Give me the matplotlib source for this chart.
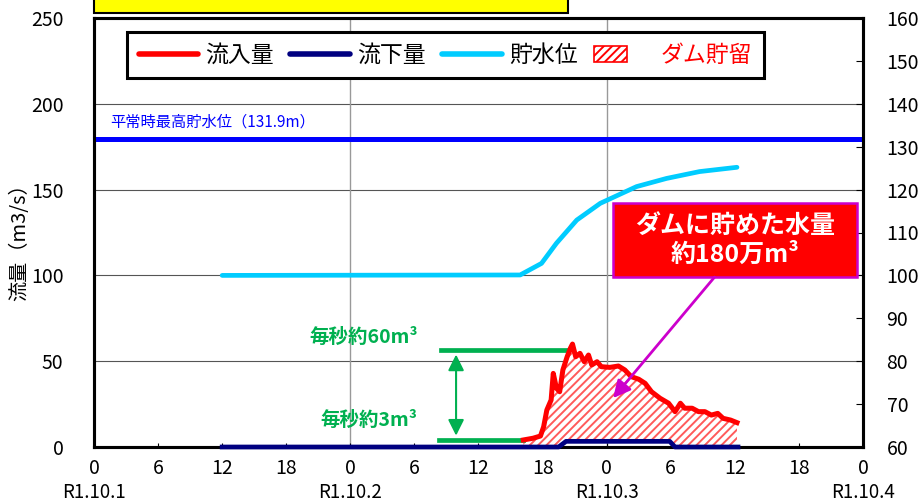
import numpy as np
import matplotlib
matplotlib.use('Agg')
import matplotlib.pyplot as plt
from matplotlib.lines import Line2D
from matplotlib.patches import Patch, Rectangle
from matplotlib.legend_handler import HandlerPatch

plt.rcParams['font.family'] = ['Noto Sans CJK JP', 'DejaVu Sans']
plt.rcParams['hatch.linewidth'] = 1.4

# hours from R1.10.1 0:00
inflow_t = [40.2, 41.1, 41.8, 42.1, 42.4, 42.8, 43.0, 43.3, 43.6, 43.9, 44.3, 44.6,
            44.8, 45.1, 45.5, 45.9, 46.3, 46.6, 47.1, 47.5, 48.3, 49.1, 49.7, 50.3,
            51.0, 51.6, 52.2, 53.0, 53.8, 54.4, 54.9, 55.3, 56.0, 56.6, 57.2, 57.8,
            58.4, 58.9, 59.6, 60.2]
inflow_q = [4.1, 5.1, 6.4, 11.8, 21.6, 27.4, 42.9, 34.2, 32.2, 44.9, 52.6, 57.5,
            60.0, 52.6, 54.6, 49.7, 53.6, 47.8, 49.7, 46.8, 46.4, 47.2, 44.9, 41.0,
            39.5, 37.1, 32.2, 28.4, 25.5, 20.6, 25.5, 22.6, 22.6, 20.6, 20.6, 18.6,
            19.6, 16.7, 15.7, 14.2]

outflow_t = [12.0, 43.5, 44.2, 53.9, 54.4, 60.3]
outflow_q = [0.0, 0.0, 3.3, 3.3, 0.0, 0.0]

level_t = [12.0, 39.9, 41.9, 43.3, 45.2, 47.4, 50.8, 53.6, 56.7, 60.2]
level_h = [100.0, 100.1, 102.8, 107.5, 112.9, 116.8, 120.7, 122.6, 124.2, 125.2]

normal_max_level = 131.9

hour_ticks = list(range(0, 73, 6))
hour_labels = ['0', '6', '12', '18'] * 3 + ['0']
date_pos = [0, 24, 48, 72]
date_labels = ['R1.10.1', 'R1.10.2', 'R1.10.3', 'R1.10.4']


def small_box(legend, orig_handle, xdescent, ydescent, width, height, fontsize):
    return Rectangle((-xdescent, -ydescent - 0.05 * height), width * 0.55, height * 1.0)


fig = plt.figure(figsize=(9.24, 5.04), dpi=100)
ax = fig.add_axes([94 / 924, 1 - 447 / 504, 769 / 924, 429 / 504])
ax2 = ax.twinx()
ax.set_zorder(ax2.get_zorder() + 1)
ax.patch.set_visible(False)

ax.set_xlim(0, 72)
ax.set_ylim(0, 250)
ax2.set_ylim(60, 160)

# grid
for y in [50, 100, 150, 200]:
    ax2.axhline(60 + y * 0.4, color='#555555', lw=0.8, zorder=0)
for x in [24, 48]:
    ax2.axvline(x, color='#999999', lw=1.0, zorder=0)

# water level on right axis
ax2.plot(level_t, level_h, color='#00ccff', lw=3.4, solid_capstyle='round', zorder=4)
ax2.axhline(normal_max_level, color='#0000ff', lw=3.6, zorder=3)
ax2.text(1.5, normal_max_level + 1.8, '平常時最高貯水位（131.9m）', color='#0000ff',
         fontsize=11, va='bottom', ha='left')

# storage hatch between inflow and outflow
ft = np.array(inflow_t)
fq = np.array(inflow_q)
fo = np.interp(ft, outflow_t, outflow_q)
ax.fill_between(ft, fo, fq, facecolor='white', edgecolor='#ff5a5a', hatch='////',
                linewidth=0, zorder=2)

ax.plot(inflow_t, inflow_q, color='red', lw=3.6, zorder=4, solid_joinstyle='round')
ax.plot(outflow_t, outflow_q, color='#000080', lw=3.4, zorder=5,
        solid_joinstyle='round', clip_on=False)

# green annotation for peak / outflow
green = '#00b050'
ax.plot([32.5, 44.2], [56.5, 56.5], color=green, lw=3.4, zorder=3)
ax.plot([32.3, 40.2], [4.0, 4.0], color=green, lw=3.4, zorder=3)
ax.annotate('', xy=(33.9, 55.5), xytext=(33.9, 5.0),
            arrowprops=dict(arrowstyle='<|-|>', color=green, lw=1.5,
                            mutation_scale=24), zorder=3)
ax.text(30.3, 58.5, '毎秒約60m³', color=green, fontsize=14, fontweight='bold',
        ha='right', va='bottom')
ax.text(30.3, 10.0, '毎秒約3m³', color=green, fontsize=14, fontweight='bold',
        ha='right', va='bottom')

# red box annotation
ax.add_patch(Rectangle((48.6, 99.0), 22.8, 43.2, facecolor='red', edgecolor='#cc00cc',
                       lw=1.8, zorder=6))
ax.text(60.0, 120.6, 'ダムに貯めた水量\n約180万m³', color='white', fontsize=18,
        fontweight='bold', ha='center', va='center', linespacing=1.25, zorder=7)
ax.annotate('', xy=(48.6, 28.5), xytext=(58.1, 99.0),
            arrowprops=dict(arrowstyle='-|>', color='#cc00cc', lw=2.0,
                            mutation_scale=26, shrinkA=0, shrinkB=0), zorder=6)

# legend
handles = [Line2D([], [], color='red', lw=4.0, solid_capstyle='round'),
           Line2D([], [], color='#000080', lw=4.0, solid_capstyle='round'),
           Line2D([], [], color='#00ccff', lw=4.0, solid_capstyle='round'),
           Patch(facecolor='white', edgecolor='red', hatch='////', lw=1.2)]
leg = ax.legend(handles, ['流入量', '流下量', '貯水位', 'ダム貯留'], ncol=4,
                loc='upper left', bbox_to_anchor=(0.043, 0.858, 0.828, 0.109),
                mode='expand', fontsize=16.5, handlelength=2.6, handletextpad=0.3,
                borderaxespad=0, fancybox=False, edgecolor='black', framealpha=1,
                borderpad=0.5, handler_map={Patch: HandlerPatch(patch_func=small_box)})
leg.get_frame().set_linewidth(2.2)
leg.get_texts()[3].set_color('red')
leg.set_zorder(10)

# axes styling
ax.set_yticks([0, 50, 100, 150, 200, 250])
ax2.set_yticks(list(range(60, 161, 10)))
ax.set_xticks(hour_ticks)
ax.set_xticklabels(hour_labels)
ax.tick_params(axis='x', direction='in', length=3, labelsize=14, pad=8)
ax.tick_params(axis='y', length=0, labelsize=14, pad=22)
ax2.tick_params(axis='y', direction='in', length=5, labelsize=14, pad=17)
for a in (ax, ax2):
    for s in a.spines.values():
        s.set_linewidth(2.2)
ax.set_ylabel('流量（m3/s）', fontsize=14.5)
ax.yaxis.set_label_coords(-0.083, 0.49)

for p, lab in zip(date_pos, date_labels):
    ax.text(p, -0.107, lab, transform=ax.get_xaxis_transform(), ha='center',
            va='center', fontsize=13.5)

# yellow title box (cut off at the top of the image)
fig.patches.append(Rectangle((94 / 924, 1 - 12.5 / 504), 474 / 924, 0.05,
                             transform=fig.transFigure, facecolor='yellow',
                             edgecolor='black', lw=1.5))

fig.savefig('out.png', dpi=100)
